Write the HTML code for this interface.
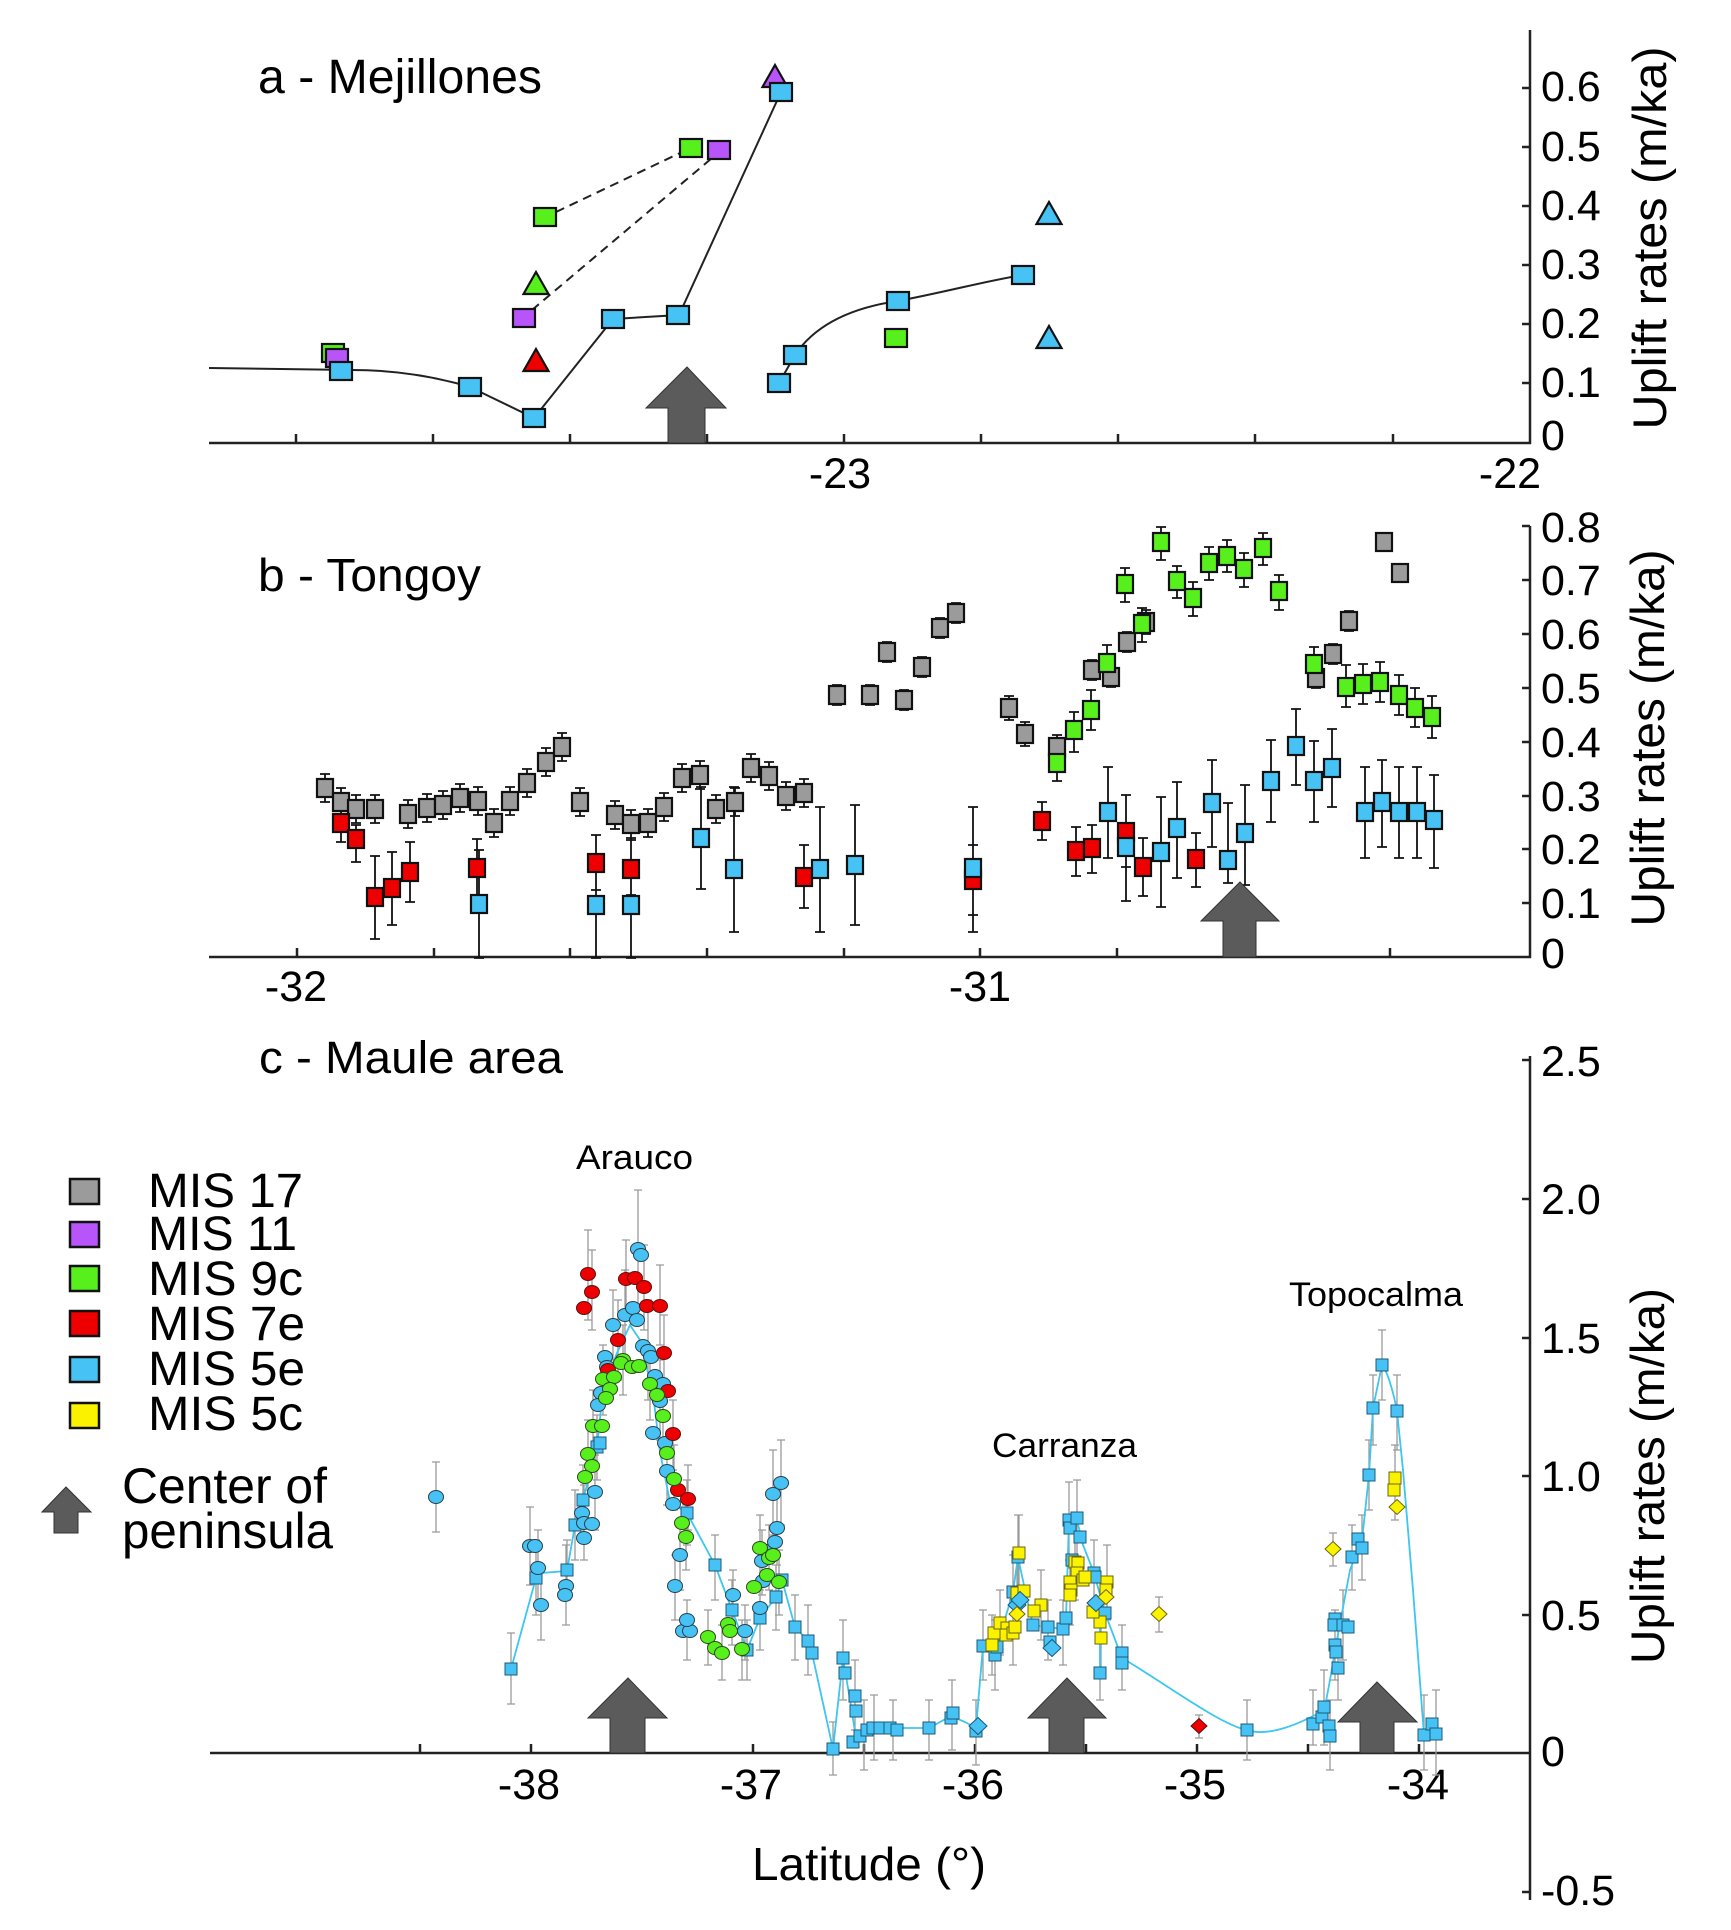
<!DOCTYPE html>
<html><head><meta charset="utf-8"><style>
html,body{margin:0;padding:0;background:#fff;}
svg{display:block;}
text{font-family:"Liberation Sans",Arial,sans-serif;fill:#000;}
</style></head><body>
<svg width="1731" height="1930" viewBox="0 0 1731 1930" xmlns="http://www.w3.org/2000/svg">
<defs>
<rect id="qa" x="-11" y="-9" width="22" height="18"/>
<path id="ta" d="M0,-12L12.5,10L-12.5,10Z"/>
<rect id="qb" x="-8" y="-9" width="16" height="18"/>
<rect id="qc" x="-6" y="-6" width="12" height="12"/>
<ellipse id="cc" rx="7.5" ry="6.5"/>
<path id="dc" d="M0,-8.5L9,0L0,8.5L-9,0Z"/>
<path id="dy" d="M0,-7.5L8,0L0,7.5L-8,0Z"/>
</defs>

<!-- ============ PANEL A ============ -->
<g stroke="#222" stroke-width="2.5" fill="none">
<path d="M209,443H1530V30"/>
<path d="M296,443v-9M433,443v-9M570,443v-9M707,443v-9M844,443v-9M981,443v-9M1118,443v-9M1255,443v-9M1393,443v-9"/>
<path d="M1530,383h-8M1530,324h-8M1530,265h-8M1530,206h-8M1530,147h-8M1530,88h-8"/>
</g>
<g font-size="43">
<text x="1541" y="450">0</text>
<text x="1541" y="397">0.1</text>
<text x="1541" y="338">0.2</text>
<text x="1541" y="279">0.3</text>
<text x="1541" y="220">0.4</text>
<text x="1541" y="161">0.5</text>
<text x="1541" y="101">0.6</text>
<text x="840" y="488" text-anchor="middle">-23</text>
<text x="1510" y="488" text-anchor="middle">-22</text>
</g>
<text x="258" y="93" font-size="48" textLength="284" lengthAdjust="spacingAndGlyphs">a - Mejillones</text>
<text transform="translate(1666,238) rotate(-90)" font-size="47" text-anchor="middle" textLength="383" lengthAdjust="spacingAndGlyphs">Uplift rates (m/ka)</text>

<g fill="none" stroke="#222" stroke-width="2">
<path d="M209,368L352,370C400,370 440,378 470,387L534,418L613,319L679,315L781,92"/>
<path d="M779,383L795,355C815,325 850,308 898,301C950,291 990,280 1023,275"/>
</g>
<g fill="none" stroke="#222" stroke-width="2" stroke-dasharray="9,6">
<path d="M556,212L680,153"/>
<path d="M532,310L712,158"/>
</g>
<polygon points="687,367 726,408 705,408 705,443 668,443 668,408 646,408" fill="#5b5b5b" stroke="#333" stroke-width="1"/>
<g stroke="#111" stroke-width="2.2">
<use href="#qa" x="333" y="353" fill="#58f01c"/>
<use href="#qa" x="337" y="358" fill="#b755fa"/>
<use href="#qa" x="341" y="371" fill="#46c3f4"/>
<use href="#qa" x="470" y="387" fill="#46c3f4"/>
<use href="#qa" x="534" y="418" fill="#46c3f4"/>
<use href="#qa" x="613" y="319" fill="#46c3f4"/>
<use href="#qa" x="678" y="315" fill="#46c3f4"/>
<use href="#ta" x="775" y="77" fill="#b755fa"/>
<use href="#qa" x="781" y="92" fill="#46c3f4"/>
<use href="#qa" x="545" y="217" fill="#58f01c"/>
<use href="#ta" x="536" y="284" fill="#58f01c"/>
<use href="#qa" x="524" y="318" fill="#b755fa"/>
<use href="#ta" x="536" y="361" fill="#ee0000"/>
<use href="#qa" x="691" y="148" fill="#58f01c"/>
<use href="#qa" x="719" y="150" fill="#b755fa"/>
<use href="#qa" x="779" y="383" fill="#46c3f4"/>
<use href="#qa" x="795" y="355" fill="#46c3f4"/>
<use href="#qa" x="898" y="301" fill="#46c3f4"/>
<use href="#qa" x="1023" y="275" fill="#46c3f4"/>
<use href="#qa" x="896" y="338" fill="#58f01c"/>
<use href="#ta" x="1049" y="214" fill="#46c3f4"/>
<use href="#ta" x="1049" y="338" fill="#46c3f4"/>
</g>

<!-- ============ PANEL B ============ -->
<g stroke="#222" stroke-width="2.5" fill="none">
<path d="M209,957H1530V526"/>
<path d="M297,957v-9M434,957v-9M570,957v-9M707,957v-9M844,957v-9M980,957v-9M1117,957v-9M1254,957v-9M1390,957v-9"/>
<path d="M1530,903h-8M1530,849h-8M1530,796h-8M1530,742h-8M1530,688h-8M1530,634h-8M1530,580h-8M1530,526h-8"/>
</g>
<g font-size="43">
<text x="1541" y="968">0</text>
<text x="1541" y="918">0.1</text>
<text x="1541" y="864">0.2</text>
<text x="1541" y="811">0.3</text>
<text x="1541" y="757">0.4</text>
<text x="1541" y="703">0.5</text>
<text x="1541" y="649">0.6</text>
<text x="1541" y="595">0.7</text>
<text x="1541" y="542">0.8</text>
<text x="296" y="1001" text-anchor="middle">-32</text>
<text x="980" y="1001" text-anchor="middle">-31</text>
</g>
<text x="258" y="591" font-size="46" textLength="223" lengthAdjust="spacingAndGlyphs">b - Tongoy</text>
<text transform="translate(1664,738) rotate(-90)" font-size="47" text-anchor="middle" textLength="377" lengthAdjust="spacingAndGlyphs">Uplift rates (m/ka)</text>

<path fill="none" stroke="#111" stroke-width="1.8" d="
M325,774V802M320,774h10M320,802h10M341,788V816M336,788h10M336,816h10M356,795V823M351,795h10M351,823h10M375,795V823M370,795h10M370,823h10M408,800V828M403,800h10M403,828h10M427,794V822M422,794h10M422,822h10M443,791V819M438,791h10M438,819h10M460,784V812M455,784h10M455,812h10M478,787V815M473,787h10M473,815h10M494,809V837M489,809h10M489,837h10M510,787V815M505,787h10M505,815h10M527,769V797M522,769h10M522,797h10M546,748V776M541,748h10M541,776h10M562,733V761M557,733h10M557,761h10M580,788V816M575,788h10M575,816h10M615,801V829M610,801h10M610,829h10M631,810V838M626,810h10M626,838h10M648,809V837M643,809h10M643,837h10M664,793V821M659,793h10M659,821h10M682,764V792M677,764h10M677,792h10M700,761V789M695,761h10M695,789h10M716,795V823M711,795h10M711,823h10M735,788V816M730,788h10M730,816h10M751,754V782M746,754h10M746,782h10M769,762V790M764,762h10M764,790h10M786,782V810M781,782h10M781,810h10M804,779V807M799,779h10M799,807h10M837,685V705M832,685h10M832,705h10M870,685V705M865,685h10M865,705h10M887,642V662M882,642h10M882,662h10M904,690V710M899,690h10M899,710h10M922,657V677M917,657h10M917,677h10M940,618V638M935,618h10M935,638h10M956,603V623M951,603h10M951,623h10M1009,696V720M1004,696h10M1004,720h10M1025,722V746M1020,722h10M1020,746h10M1057,735V759M1052,735h10M1052,759h10M1092,660V680M1087,660h10M1087,680h10M1111,667V687M1106,667h10M1106,687h10M1127,632V652M1122,632h10M1122,652h10M1146,610V634M1141,610h10M1141,634h10M1316,668V688M1311,668h10M1311,688h10M1333,644V664M1328,644h10M1328,664h10M1349,611V631M1344,611h10M1344,631h10
M341,807V842M336,807h10M336,842h10M356,825V862M351,825h10M351,862h10M375,856V939M370,856h10M370,939h10M392,852V925M387,852h10M387,925h10M410,842V902M405,842h10M405,902h10M477,839V897M472,839h10M472,897h10M596,835V890M591,835h10M591,890h10M631,840V895M626,840h10M626,895h10M804,845V908M799,845h10M799,908h10M973,845V915M968,845h10M968,915h10M1042,802V840M1037,802h10M1037,840h10M1076,827V876M1071,827h10M1071,876h10M1092,825V873M1087,825h10M1087,873h10M1126,795V867M1121,795h10M1121,867h10M1143,838V896M1138,838h10M1138,896h10M1196,833V887M1191,833h10M1191,887h10
M479,850V958M474,850h10M474,958h10M596,835V958M591,958h10M631,837V958M626,958h10M701,787V889M696,787h10M696,889h10M734,787V932M729,787h10M729,932h10M820,807V932M815,807h10M815,932h10M855,805V925M850,805h10M850,925h10M973,807V932M968,807h10M968,932h10M1108,767V858M1103,767h10M1103,858h10M1126,812V901M1121,901h10M1161,797V907M1156,797h10M1156,907h10M1177,782V878M1172,782h10M1172,878h10M1212,760V847M1207,760h10M1207,847h10M1228,803V883M1223,803h10M1223,883h10M1245,785V885M1240,785h10M1240,885h10M1271,740V822M1266,740h10M1266,822h10M1296,709V785M1291,709h10M1291,785h10M1314,741V822M1309,741h10M1309,822h10M1332,729V807M1327,729h10M1327,807h10M1365,767V858M1360,767h10M1360,858h10M1382,760V847M1377,760h10M1377,847h10M1399,767V858M1394,767h10M1394,858h10M1417,767V858M1412,767h10M1412,858h10M1434,775V868M1429,775h10M1429,868h10
M1057,745V781M1052,745h10M1052,781h10M1074,712V752M1069,712h10M1069,752h10M1091,690V730M1086,690h10M1086,730h10M1107,645V685M1102,645h10M1102,685h10M1125,568V602M1120,568h10M1120,602h10M1142,608V642M1137,608h10M1137,642h10M1161,527V560M1156,527h10M1156,560h10M1177,566V598M1172,566h10M1172,598h10M1193,582V616M1188,582h10M1188,616h10M1209,547V580M1204,547h10M1204,580h10M1227,540V572M1222,540h10M1222,572h10M1244,553V587M1239,553h10M1239,587h10M1263,533V565M1258,533h10M1258,565h10M1279,575V610M1274,575h10M1274,610h10M1314,647V684M1309,647h10M1309,684h10M1346,665V707M1341,665h10M1341,707h10M1363,664V704M1358,664h10M1358,704h10M1380,662V702M1375,662h10M1375,702h10M1399,675V715M1394,675h10M1394,715h10M1415,688V727M1410,688h10M1410,727h10M1432,696V738M1427,696h10M1427,738h10"/>

<polygon points="1240,882 1279,921 1256,921 1256,957 1223,957 1223,921 1201,921" fill="#5b5b5b" stroke="#333" stroke-width="1"/>

<g stroke="#111" stroke-width="2.2" fill="#9b9b9b">
<use href="#qb" x="325" y="788"/><use href="#qb" x="341" y="802"/><use href="#qb" x="356" y="809"/><use href="#qb" x="375" y="809"/><use href="#qb" x="408" y="814"/><use href="#qb" x="427" y="808"/><use href="#qb" x="443" y="805"/><use href="#qb" x="460" y="798"/><use href="#qb" x="478" y="801"/><use href="#qb" x="494" y="823"/><use href="#qb" x="510" y="801"/><use href="#qb" x="527" y="783"/><use href="#qb" x="546" y="762"/><use href="#qb" x="562" y="747"/><use href="#qb" x="580" y="802"/><use href="#qb" x="615" y="815"/><use href="#qb" x="631" y="824"/><use href="#qb" x="648" y="823"/><use href="#qb" x="664" y="807"/><use href="#qb" x="682" y="778"/><use href="#qb" x="700" y="775"/><use href="#qb" x="716" y="809"/><use href="#qb" x="735" y="802"/><use href="#qb" x="751" y="768"/><use href="#qb" x="769" y="776"/><use href="#qb" x="786" y="796"/><use href="#qb" x="804" y="793"/><use href="#qb" x="837" y="695"/><use href="#qb" x="870" y="695"/><use href="#qb" x="887" y="652"/><use href="#qb" x="904" y="700"/><use href="#qb" x="922" y="667"/><use href="#qb" x="940" y="628"/><use href="#qb" x="956" y="613"/><use href="#qb" x="1009" y="708"/><use href="#qb" x="1025" y="734"/><use href="#qb" x="1057" y="747"/><use href="#qb" x="1092" y="670"/><use href="#qb" x="1111" y="677"/><use href="#qb" x="1127" y="642"/><use href="#qb" x="1146" y="622"/><use href="#qb" x="1316" y="678"/><use href="#qb" x="1333" y="654"/><use href="#qb" x="1349" y="621"/><use href="#qb" x="1384" y="542"/><use href="#qb" x="1400" y="573"/>
</g>
<g stroke="#111" stroke-width="2.2" fill="#ee0000">
<use href="#qb" x="341" y="823"/><use href="#qb" x="356" y="839"/><use href="#qb" x="375" y="897"/><use href="#qb" x="392" y="888"/><use href="#qb" x="410" y="872"/><use href="#qb" x="477" y="868"/><use href="#qb" x="596" y="863"/><use href="#qb" x="631" y="869"/><use href="#qb" x="804" y="877"/><use href="#qb" x="973" y="880"/><use href="#qb" x="1042" y="821"/><use href="#qb" x="1076" y="851"/><use href="#qb" x="1092" y="848"/><use href="#qb" x="1126" y="832"/><use href="#qb" x="1143" y="867"/><use href="#qb" x="1196" y="859"/>
</g>
<g stroke="#111" stroke-width="2.2" fill="#46c3f4">
<use href="#qb" x="479" y="904"/><use href="#qb" x="596" y="905"/><use href="#qb" x="631" y="905"/><use href="#qb" x="701" y="838"/><use href="#qb" x="734" y="869"/><use href="#qb" x="820" y="869"/><use href="#qb" x="855" y="865"/><use href="#qb" x="973" y="868"/><use href="#qb" x="1108" y="812"/><use href="#qb" x="1126" y="847"/><use href="#qb" x="1161" y="852"/><use href="#qb" x="1177" y="828"/><use href="#qb" x="1212" y="803"/><use href="#qb" x="1228" y="860"/><use href="#qb" x="1245" y="833"/><use href="#qb" x="1271" y="781"/><use href="#qb" x="1296" y="746"/><use href="#qb" x="1314" y="781"/><use href="#qb" x="1332" y="768"/><use href="#qb" x="1365" y="812"/><use href="#qb" x="1382" y="802"/><use href="#qb" x="1399" y="812"/><use href="#qb" x="1417" y="812"/><use href="#qb" x="1434" y="820"/>
</g>
<g stroke="#111" stroke-width="2.2" fill="#58f01c">
<use href="#qb" x="1057" y="763"/><use href="#qb" x="1074" y="730"/><use href="#qb" x="1091" y="710"/><use href="#qb" x="1107" y="663"/><use href="#qb" x="1125" y="584"/><use href="#qb" x="1142" y="624"/><use href="#qb" x="1161" y="542"/><use href="#qb" x="1177" y="581"/><use href="#qb" x="1193" y="598"/><use href="#qb" x="1209" y="563"/><use href="#qb" x="1227" y="556"/><use href="#qb" x="1244" y="569"/><use href="#qb" x="1263" y="548"/><use href="#qb" x="1279" y="591"/><use href="#qb" x="1314" y="664"/><use href="#qb" x="1346" y="687"/><use href="#qb" x="1363" y="684"/><use href="#qb" x="1380" y="682"/><use href="#qb" x="1399" y="695"/><use href="#qb" x="1415" y="708"/><use href="#qb" x="1432" y="717"/>
</g>

<!-- ============ PANEL C ============ -->
<g stroke="#222" stroke-width="2.5" fill="none">
<path d="M210,1753H1530"/>
<path d="M1530,1056V1900"/>
<path d="M420,1753v-9M531,1753v-9M642,1753v-9M753,1753v-9M864,1753v-9M975,1753v-9M1086,1753v-9M1197,1753v-9M1308,1753v-9M1419,1753v-9"/>
<path d="M1530,1060h-8M1530,1199h-8M1530,1338h-8M1530,1476h-8M1530,1615h-8M1530,1892h-8"/>
</g>
<g font-size="43">
<text x="1541" y="1076">2.5</text>
<text x="1541" y="1214">2.0</text>
<text x="1541" y="1353">1.5</text>
<text x="1541" y="1491">1.0</text>
<text x="1541" y="1630">0.5</text>
<text x="1541" y="1766">0</text>
<text x="1541" y="1905">-0.5</text>
<text x="529" y="1799" text-anchor="middle">-38</text>
<text x="751" y="1799" text-anchor="middle">-37</text>
<text x="973" y="1799" text-anchor="middle">-36</text>
<text x="1195" y="1799" text-anchor="middle">-35</text>
<text x="1418" y="1799" text-anchor="middle">-34</text>
</g>
<text x="259" y="1073" font-size="45" textLength="304" lengthAdjust="spacingAndGlyphs">c - Maule area</text>
<text x="576" y="1169" font-size="34" textLength="117" lengthAdjust="spacingAndGlyphs">Arauco</text>
<text x="992" y="1457" font-size="34" textLength="145" lengthAdjust="spacingAndGlyphs">Carranza</text>
<text x="1289" y="1306" font-size="34" textLength="174" lengthAdjust="spacingAndGlyphs">Topocalma</text>
<text x="752" y="1880" font-size="46" textLength="234" lengthAdjust="spacingAndGlyphs">Latitude (°)</text>
<text transform="translate(1664,1476) rotate(-90)" font-size="47" text-anchor="middle" textLength="376" lengthAdjust="spacingAndGlyphs">Uplift rates (m/ka)</text>

<path fill="none" stroke="#9a9a9a" stroke-width="1.3" d="
M511,1633V1704M507,1633h8M507,1704h8M536,1540V1615M532,1540h8M532,1615h8M567,1540V1600M563,1540h8M563,1600h8M575,1490V1560M571,1490h8M571,1560h8M583,1465V1535M579,1465h8M579,1535h8M597,1415V1480M593,1415h8M593,1480h8M687,1480V1545M683,1480h8M683,1545h8M715,1535V1600M711,1535h8M711,1600h8M732,1580V1645M728,1580h8M728,1645h8M747,1620V1680M743,1620h8M743,1680h8M760,1590V1650M756,1590h8M756,1650h8M776,1565V1630M772,1565h8M772,1630h8M795,1595V1660M791,1595h8M791,1660h8M808,1605V1675M804,1605h8M804,1675h8M833,1722V1775M829,1722h8M829,1775h8M843,1620V1700M839,1620h8M839,1700h8M855,1660V1730M851,1660h8M851,1730h8M864,1700V1770M860,1700h8M860,1770h8M874,1695V1760M870,1695h8M870,1760h8M893,1700V1760M889,1700h8M889,1760h8M929,1700V1760M925,1700h8M925,1760h8M952,1680V1750M948,1680h8M948,1750h8M976,1700V1765M972,1700h8M972,1765h8M983,1610V1680M979,1610h8M979,1680h8M995,1620V1690M991,1620h8M991,1690h8M1013,1555V1630M1009,1555h8M1009,1630h8M1018,1515V1600M1014,1515h8M1014,1600h8M1048,1600V1660M1044,1600h8M1044,1660h8M1063,1600V1665M1059,1600h8M1059,1665h8M1069,1482V1560M1065,1482h8M1065,1560h8M1077,1480V1560M1073,1480h8M1073,1560h8M1094,1540V1610M1090,1540h8M1090,1610h8M1100,1640V1700M1096,1640h8M1096,1700h8M1122,1625V1690M1118,1625h8M1118,1690h8M1247,1700V1760M1243,1700h8M1243,1760h8M1313,1690V1745M1309,1690h8M1309,1745h8M1324,1670V1745M1320,1670h8M1320,1745h8M1330,1700V1770M1326,1700h8M1326,1770h8M1338,1630V1700M1334,1630h8M1334,1700h8M1335,1610V1680M1331,1610h8M1331,1680h8M1343,1590V1660M1339,1590h8M1339,1660h8M1352,1525V1590M1348,1525h8M1348,1590h8M1362,1515V1580M1358,1515h8M1358,1580h8M1369,1440V1510M1365,1440h8M1365,1510h8M1373,1375V1445M1369,1375h8M1369,1445h8M1382,1330V1400M1378,1330h8M1378,1400h8M1397,1375V1450M1393,1375h8M1393,1450h8M1424,1695V1770M1420,1695h8M1420,1770h8M1436,1690V1775M1432,1690h8M1432,1775h8
M436,1462V1532M432,1462h8M432,1532h8M530,1507V1585M526,1507h8M526,1585h8M538,1530V1605M534,1530h8M534,1605h8M541,1570V1640M537,1570h8M537,1640h8M566,1545V1625M562,1545h8M562,1625h8M584,1485V1560M580,1485h8M580,1560h8M595,1455V1530M591,1455h8M591,1530h8M613,1290V1360M609,1290h8M609,1360h8M625,1270V1360M621,1270h8M621,1360h8M638,1190V1305M634,1190h8M634,1305h8M648,1300V1400M644,1300h8M644,1400h8M660,1360V1440M656,1360h8M656,1440h8M667,1440V1505M663,1440h8M663,1505h8M680,1520V1590M676,1520h8M676,1590h8M675,1555V1620M671,1555h8M671,1620h8M687,1600V1660M683,1600h8M683,1660h8M745,1605V1660M741,1605h8M741,1660h8M762,1530V1595M758,1530h8M758,1595h8M777,1490V1565M773,1490h8M773,1565h8M781,1440V1525M777,1440h8M777,1525h8M773,1450V1535M769,1450h8M769,1535h8M733,1570V1620M729,1570h8M729,1620h8
M588,1230V1320M584,1230h8M584,1320h8M592,1250V1330M588,1250h8M588,1330h8M626,1240V1320M622,1240h8M622,1320h8M644,1245V1330M640,1245h8M640,1330h8M660,1265V1345M656,1265h8M656,1345h8M618,1300V1380M614,1300h8M614,1380h8M664,1315V1390M660,1315h8M660,1390h8M673,1400V1470M669,1400h8M669,1470h8M688,1465V1530M684,1465h8M684,1530h8
M623,1325V1395M619,1325h8M619,1395h8M603,1345V1415M599,1345h8M599,1415h8M593,1390V1460M589,1390h8M589,1460h8M588,1420V1490M584,1420h8M584,1490h8M650,1350V1420M646,1350h8M646,1420h8M663,1380V1450M659,1380h8M659,1450h8M674,1445V1510M670,1445h8M670,1510h8M686,1505V1570M682,1505h8M682,1570h8M708,1610V1665M704,1610h8M704,1665h8M722,1625V1680M718,1625h8M718,1680h8M742,1620V1680M738,1620h8M738,1680h8M760,1515V1580M756,1515h8M756,1580h8M769,1525V1590M765,1525h8M765,1590h8M779,1550V1615M775,1550h8M775,1615h8
M1019,1515V1590M1015,1515h8M1015,1590h8M1017,1560V1625M1013,1560h8M1013,1625h8M1041,1570V1640M1037,1570h8M1037,1640h8M992,1615V1675M988,1615h8M988,1675h8M1000,1590V1655M996,1590h8M996,1655h8M1013,1600V1665M1009,1600h8M1009,1665h8M1075,1525V1600M1071,1525h8M1071,1600h8M1070,1555V1625M1066,1555h8M1066,1625h8M1107,1545V1620M1103,1545h8M1103,1620h8M1101,1605V1670M1097,1605h8M1097,1670h8M1159,1597V1632M1155,1597h8M1155,1632h8M1395,1445V1520M1391,1445h8M1391,1520h8M1333,1533V1566M1329,1533h8M1329,1566h8M1199,1715V1738M1195,1715h8M1195,1738h8"/>

<path fill="none" stroke="#3cc6f0" stroke-width="1.8" d="M511,1669L536,1578L541,1573L567,1571L575,1525L583,1500L597,1447L603,1390L617,1353L630,1325L640,1340L653,1393L660,1452L670,1502L687,1513L715,1565L732,1610L747,1650L760,1618L776,1597L782,1580L795,1627L808,1641L812,1653L833,1749L843,1658L850,1700L856,1738L867,1730L893,1728L929,1728L951,1716L965,1722L976,1728L983,1646L995,1652L1013,1592L1018,1557L1025,1590L1033,1625L1048,1627L1063,1629L1066,1618L1069,1520L1077,1520L1083,1545L1094,1573L1105,1613L1122,1658C1160,1680 1220,1725 1247,1730C1265,1736 1290,1728 1313,1716L1324,1712L1330,1680L1336,1645L1350,1570L1362,1540L1369,1475L1373,1408L1382,1365C1388,1372 1394,1395 1397,1411L1403,1470L1413,1590L1424,1735L1436,1734M1100,1673L1100,1620"/>

<polygon points="628,1678 667,1718 645,1718 645,1753 610,1753 610,1718 588,1718" fill="#5b5b5b" stroke="#333" stroke-width="1"/>
<polygon points="1067,1678 1106,1718 1084,1718 1084,1753 1049,1753 1049,1718 1028,1718" fill="#5b5b5b" stroke="#333" stroke-width="1"/>
<polygon points="1377,1682 1417,1722 1394,1722 1394,1753 1360,1753 1360,1722 1338,1722" fill="#5b5b5b" stroke="#333" stroke-width="1"/>

<g fill="#46c3f4" stroke="#1c5878" stroke-width="1">
<use href="#qc" x="511" y="1669"/><use href="#qc" x="536" y="1578"/><use href="#qc" x="567" y="1570"/><use href="#qc" x="575" y="1525"/><use href="#qc" x="583" y="1500"/><use href="#qc" x="597" y="1447"/><use href="#qc" x="600" y="1443"/><use href="#qc" x="687" y="1513"/><use href="#qc" x="715" y="1565"/><use href="#qc" x="732" y="1610"/><use href="#qc" x="747" y="1650"/><use href="#qc" x="760" y="1618"/><use href="#qc" x="776" y="1597"/><use href="#qc" x="782" y="1580"/><use href="#qc" x="795" y="1627"/><use href="#qc" x="808" y="1641"/><use href="#qc" x="812" y="1653"/><use href="#qc" x="833" y="1749"/><use href="#qc" x="843" y="1658"/><use href="#qc" x="845" y="1673"/><use href="#qc" x="855" y="1696"/><use href="#qc" x="856" y="1711"/><use href="#qc" x="853" y="1742"/><use href="#qc" x="860" y="1736"/><use href="#qc" x="867" y="1730"/><use href="#qc" x="873" y="1728"/><use href="#qc" x="880" y="1728"/><use href="#qc" x="890" y="1728"/><use href="#qc" x="897" y="1730"/><use href="#qc" x="929" y="1728"/><use href="#qc" x="951" y="1718"/><use href="#qc" x="953" y="1713"/><use href="#qc" x="976" y="1731"/><use href="#qc" x="983" y="1646"/><use href="#qc" x="995" y="1655"/><use href="#qc" x="997" y="1647"/><use href="#qc" x="1013" y="1592"/><use href="#qc" x="1018" y="1557"/><use href="#qc" x="1033" y="1625"/><use href="#qc" x="1048" y="1627"/><use href="#qc" x="1050" y="1642"/><use href="#qc" x="1063" y="1629"/><use href="#qc" x="1066" y="1618"/><use href="#qc" x="1069" y="1520"/><use href="#qc" x="1070" y="1528"/><use href="#qc" x="1077" y="1518"/><use href="#qc" x="1080" y="1537"/><use href="#qc" x="1072" y="1560"/><use href="#qc" x="1094" y="1573"/><use href="#qc" x="1095" y="1577"/><use href="#qc" x="1105" y="1613"/><use href="#qc" x="1100" y="1673"/><use href="#qc" x="1122" y="1653"/><use href="#qc" x="1122" y="1663"/><use href="#qc" x="1247" y="1730"/><use href="#qc" x="1313" y="1724"/><use href="#qc" x="1322" y="1717"/><use href="#qc" x="1324" y="1707"/><use href="#qc" x="1329" y="1726"/><use href="#qc" x="1330" y="1736"/><use href="#qc" x="1338" y="1668"/><use href="#qc" x="1335" y="1645"/><use href="#qc" x="1336" y="1652"/><use href="#qc" x="1335" y="1619"/><use href="#qc" x="1334" y="1625"/><use href="#qc" x="1343" y="1625"/><use href="#qc" x="1348" y="1627"/><use href="#qc" x="1352" y="1557"/><use href="#qc" x="1358" y="1539"/><use href="#qc" x="1362" y="1548"/><use href="#qc" x="1369" y="1475"/><use href="#qc" x="1373" y="1408"/><use href="#qc" x="1382" y="1365"/><use href="#qc" x="1397" y="1411"/><use href="#qc" x="1424" y="1735"/><use href="#qc" x="1432" y="1724"/><use href="#qc" x="1436" y="1734"/>
</g>
<g fill="#46c3f4" stroke="#2a3f4a" stroke-width="1">
<use href="#cc" x="436" y="1497"/><use href="#cc" x="530" y="1546"/><use href="#cc" x="535" y="1546"/><use href="#cc" x="538" y="1568"/><use href="#cc" x="541" y="1605"/><use href="#cc" x="566" y="1586"/><use href="#cc" x="565" y="1595"/><use href="#cc" x="582" y="1513"/><use href="#cc" x="584" y="1523"/><use href="#cc" x="592" y="1524"/><use href="#cc" x="584" y="1538"/><use href="#cc" x="595" y="1492"/><use href="#cc" x="601" y="1393"/><use href="#cc" x="598" y="1405"/><use href="#cc" x="605" y="1357"/><use href="#cc" x="607" y="1367"/><use href="#cc" x="613" y="1325"/><use href="#cc" x="625" y="1315"/><use href="#cc" x="633" y="1308"/><use href="#cc" x="637" y="1320"/><use href="#cc" x="638" y="1249"/><use href="#cc" x="641" y="1255"/><use href="#cc" x="643" y="1346"/><use href="#cc" x="648" y="1351"/><use href="#cc" x="651" y="1357"/><use href="#cc" x="655" y="1376"/><use href="#cc" x="663" y="1384"/><use href="#cc" x="660" y="1401"/><use href="#cc" x="653" y="1433"/><use href="#cc" x="665" y="1443"/><use href="#cc" x="667" y="1471"/><use href="#cc" x="673" y="1504"/><use href="#cc" x="680" y="1555"/><use href="#cc" x="675" y="1586"/><use href="#cc" x="683" y="1631"/><use href="#cc" x="690" y="1631"/><use href="#cc" x="687" y="1620"/><use href="#cc" x="733" y="1595"/><use href="#cc" x="745" y="1631"/><use href="#cc" x="760" y="1608"/><use href="#cc" x="762" y="1561"/><use href="#cc" x="767" y="1551"/><use href="#cc" x="775" y="1542"/><use href="#cc" x="777" y="1528"/><use href="#cc" x="773" y="1494"/><use href="#cc" x="781" y="1483"/><use href="#cc" x="763" y="1581"/>
</g>
<g fill="#ee0000" stroke="#5a1010" stroke-width="1">
<use href="#cc" x="588" y="1274"/><use href="#cc" x="592" y="1292"/><use href="#cc" x="584" y="1308"/><use href="#cc" x="626" y="1279"/><use href="#cc" x="635" y="1278"/><use href="#cc" x="644" y="1287"/><use href="#cc" x="647" y="1306"/><use href="#cc" x="660" y="1306"/><use href="#cc" x="618" y="1340"/><use href="#cc" x="608" y="1370"/><use href="#cc" x="664" y="1353"/><use href="#cc" x="668" y="1391"/><use href="#cc" x="673" y="1434"/><use href="#cc" x="678" y="1490"/><use href="#cc" x="688" y="1499"/>
</g>
<g fill="#58f01c" stroke="#2c4a18" stroke-width="1">
<use href="#cc" x="623" y="1360"/><use href="#cc" x="621" y="1363"/><use href="#cc" x="632" y="1367"/><use href="#cc" x="639" y="1366"/><use href="#cc" x="603" y="1379"/><use href="#cc" x="614" y="1377"/><use href="#cc" x="610" y="1389"/><use href="#cc" x="606" y="1398"/><use href="#cc" x="593" y="1426"/><use href="#cc" x="602" y="1426"/><use href="#cc" x="588" y="1454"/><use href="#cc" x="592" y="1466"/><use href="#cc" x="585" y="1477"/><use href="#cc" x="650" y="1384"/><use href="#cc" x="657" y="1395"/><use href="#cc" x="663" y="1416"/><use href="#cc" x="667" y="1453"/><use href="#cc" x="674" y="1479"/><use href="#cc" x="682" y="1523"/><use href="#cc" x="686" y="1537"/><use href="#cc" x="708" y="1637"/><use href="#cc" x="715" y="1648"/><use href="#cc" x="722" y="1653"/><use href="#cc" x="742" y="1649"/><use href="#cc" x="728" y="1624"/><use href="#cc" x="730" y="1631"/><use href="#cc" x="754" y="1587"/><use href="#cc" x="760" y="1548"/><use href="#cc" x="767" y="1575"/><use href="#cc" x="769" y="1558"/><use href="#cc" x="773" y="1555"/><use href="#cc" x="779" y="1582"/>
</g>
<g fill="#fbf200" stroke="#6b6510" stroke-width="1">
<use href="#qc" x="1019" y="1553"/><use href="#qc" x="1017" y="1593"/><use href="#qc" x="1024" y="1591"/><use href="#qc" x="1041" y="1605"/><use href="#qc" x="1034" y="1611"/><use href="#qc" x="992" y="1645"/><use href="#qc" x="994" y="1633"/><use href="#qc" x="1000" y="1623"/><use href="#qc" x="1007" y="1628"/><use href="#qc" x="1006" y="1635"/><use href="#qc" x="1013" y="1633"/><use href="#qc" x="1015" y="1627"/><use href="#qc" x="1075" y="1562"/><use href="#qc" x="1078" y="1563"/><use href="#qc" x="1077" y="1573"/><use href="#qc" x="1070" y="1582"/><use href="#qc" x="1071" y="1590"/><use href="#qc" x="1070" y="1595"/><use href="#qc" x="1083" y="1580"/><use href="#qc" x="1085" y="1577"/><use href="#qc" x="1107" y="1582"/><use href="#qc" x="1106" y="1590"/><use href="#qc" x="1100" y="1622"/><use href="#qc" x="1101" y="1638"/><use href="#qc" x="1093" y="1612"/><use href="#qc" x="1395" y="1478"/><use href="#qc" x="1394" y="1490"/>
</g>
<g fill="#46c3f4" stroke="#1c5878" stroke-width="1">
<use href="#dc" x="1017" y="1605"/><use href="#dc" x="1020" y="1600"/><use href="#dc" x="1052" y="1648"/><use href="#dc" x="1096" y="1603"/><use href="#dc" x="978" y="1726"/>
</g>
<g fill="#fbf200" stroke="#6b6510" stroke-width="1">
<use href="#dy" x="1017" y="1614"/><use href="#dy" x="1106" y="1597"/><use href="#dy" x="1159" y="1614"/><use href="#dy" x="1397" y="1507"/><use href="#dy" x="1333" y="1549"/>
</g>
<use href="#dy" x="1199" y="1726" fill="#ee0000" stroke="#5a1010" stroke-width="1"/>

<!-- ============ LEGEND ============ -->
<g stroke="#111" stroke-width="2.5">
<rect x="70" y="1179" width="29" height="25" fill="#9b9b9b"/>
<rect x="70" y="1222" width="29" height="25" fill="#b755fa"/>
<rect x="70" y="1266" width="29" height="25" fill="#58f01c"/>
<rect x="70" y="1311" width="29" height="25" fill="#ee0000"/>
<rect x="70" y="1357" width="29" height="25" fill="#46c3f4"/>
<rect x="70" y="1403" width="29" height="25" fill="#fbf200"/>
</g>
<g font-size="48">
<text x="148" y="1207" textLength="155" lengthAdjust="spacingAndGlyphs">MIS 17</text>
<text x="148" y="1250" textLength="149" lengthAdjust="spacingAndGlyphs">MIS 11</text>
<text x="148" y="1295" textLength="155" lengthAdjust="spacingAndGlyphs">MIS 9c</text>
<text x="148" y="1340" textLength="157" lengthAdjust="spacingAndGlyphs">MIS 7e</text>
<text x="148" y="1385" textLength="157" lengthAdjust="spacingAndGlyphs">MIS 5e</text>
<text x="148" y="1430" textLength="155" lengthAdjust="spacingAndGlyphs">MIS 5c</text>
</g>
<polygon points="66,1487 91,1512 78,1512 78,1533 54,1533 54,1512 42,1512" fill="#5b5b5b" stroke="#333" stroke-width="1"/>
<text x="122" y="1503" font-size="50" textLength="205" lengthAdjust="spacingAndGlyphs">Center of</text>
<text x="122" y="1548" font-size="50" textLength="211" lengthAdjust="spacingAndGlyphs">peninsula</text>
</svg>
</body></html>
